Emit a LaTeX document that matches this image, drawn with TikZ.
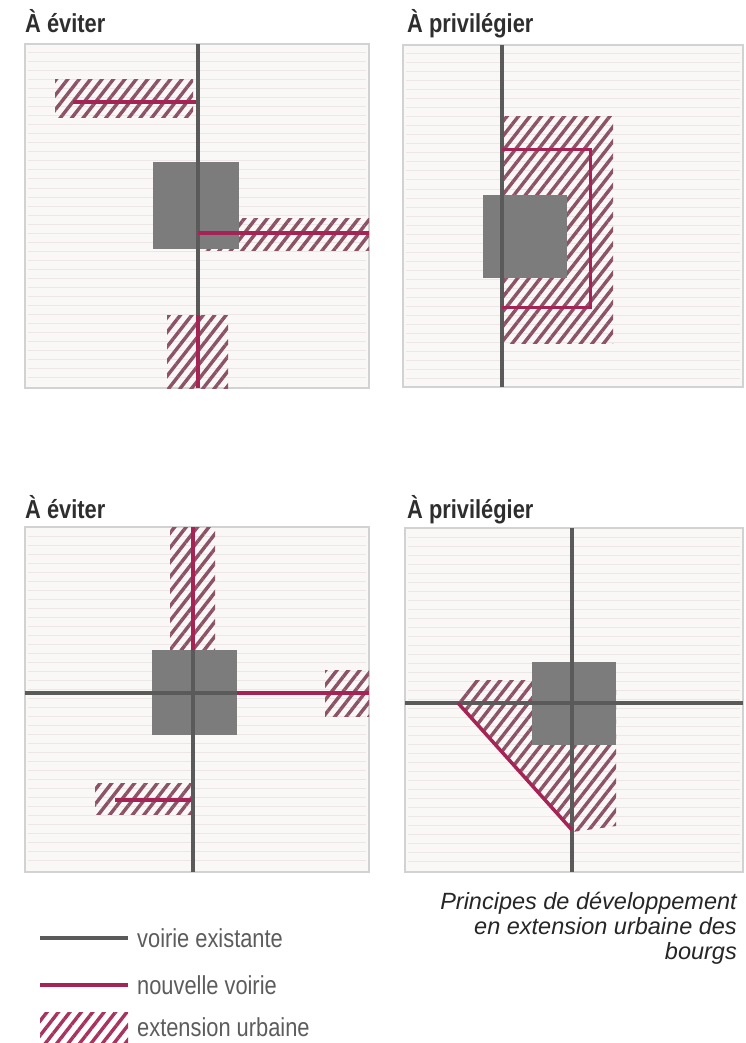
\documentclass[tikz,border=0pt]{standalone}
\usepackage{graphicx}
\usepackage{fontspec}
\setmainfont{Liberation Sans}
\usetikzlibrary{patterns.meta}
\definecolor{roadgrey}{HTML}{5A5A5A}
\definecolor{blockgrey}{HTML}{7C7C7C}
\definecolor{roadred}{HTML}{A62455}
\definecolor{hatchink}{HTML}{8C5266}
\definecolor{legendhatch}{HTML}{A8335E}
\definecolor{paper}{HTML}{FAF7F7}
\definecolor{paperline}{HTML}{ECE6E6}
\definecolor{frame}{HTML}{D2D2D2}
\definecolor{titleink}{HTML}{2E2E2E}
\definecolor{legendink}{HTML}{5C5C5C}
\newcommand{\narrowtext}[1]{\scalebox{0.84}[1]{#1}}

\begin{document}
\begin{tikzpicture}[x=1pt, y=-1pt,
  panel/.style={draw=frame, line width=1.2pt, fill=paper},
  paperrule/.style={paperline, line width=1pt},
  road/.style={roadgrey, line width=4pt},
  newroad/.style={roadred, line width=3.5pt},
  hatched/.style={pattern={Lines[angle=52, distance=9pt, line width=3.4pt]}, pattern color=hatchink},
  block/.style={fill=blockgrey},
  title/.style={anchor=base west, inner sep=0pt, text=titleink, font=\fontsize{26}{30}\selectfont\bfseries},
  legendtext/.style={anchor=west, inner sep=0pt, text=legendink, font=\fontsize{26}{30}\selectfont},
  caption/.style={anchor=north east, inner sep=0pt, align=right, text=black!85, font=\fontsize{23.5}{25}\selectfont\itshape}]

  \useasboundingbox (0,0) rectangle (745,1043);
  \fill[white] (0,0) rectangle (745,1043);

  % the four plans
  \foreach \xa/\ya/\xb/\yb in {25/44/369/388, 403/45/743/387, 25/527/369/872, 405/528/743/872} {
    \draw[panel] (\xa,\ya) rectangle (\xb,\yb);
    \foreach \s in {1,...,37}
      \draw[paperrule] (\xa+3,\ya+\s*9) -- (\xb-3,\ya+\s*9);
  }

  \node[title] (avoidtop) at (25,33) {\narrowtext{À éviter}};
  \node[title] (prefertop) at (407,33) {\narrowtext{À privilégier}};
  \node[title] (avoidbottom) at (25,518) {\narrowtext{À éviter}};
  \node[title] (preferbottom) at (407,518) {\narrowtext{À privilégier}};

  % top left
  \fill[hatched] (55,80) rectangle (193,118);
  \fill[hatched] (198,218) rectangle (369,250);
  \fill[hatched] (167,315) rectangle (228,388);
  \fill[block] (153,162) rectangle (239,249);
  \draw[road] (198,44) -- (198,388);
  \draw[newroad] (73,102) -- (196,102);
  \draw[newroad] (198,233) -- (369,233);
  \draw[newroad] (198,315) -- (198,388);

  % top right
  \fill[hatched] (502,117) rectangle (613,343);
  \fill[block] (483,195) rectangle (567,278);
  \draw[road] (502,45) -- (502,387);
  \draw[newroad, line width=3pt] (502,150) -- (590,150) -- (590,307) -- (502,307);

  % bottom left
  \fill[hatched] (170,527) rectangle (215,650);
  \fill[hatched] (325,670) rectangle (369,716);
  \fill[hatched] (95,783) rectangle (193,814);
  \fill[block] (152,650) rectangle (237,735);
  \draw[road] (25,693) -- (237,693);
  \draw[road] (193,650) -- (193,872);
  \draw[newroad] (193,527) -- (193,650);
  \draw[newroad] (237,693) -- (369,693);
  \draw[newroad] (115,800) -- (191,800);

  % bottom right
  \fill[hatched] (458,703) -- (470,680) -- (616,680) -- (616,826) -- (572,832) -- cycle;
  \fill[block] (532,662) rectangle (616,745);
  \draw[road] (572,528) -- (572,872);
  \draw[road] (405,703) -- (743,703);
  \draw[newroad] (458,703) -- (572,830);

  \node[caption] (caption) at (737,892) {Principes de développement\\en extension urbaine des\\bourgs};

  % legend
  \node[legendtext] (existing) at (137,938) {\narrowtext{voirie existante}};
  \draw[road] (40,938) -- ([xshift=-9pt]existing.west);
  \node[legendtext] (planned) at (137,985) {\narrowtext{nouvelle voirie}};
  \draw[newroad, line width=4pt] (40,985) -- ([xshift=-9pt]planned.west);
  \node[legendtext] (extension) at (137,1027) {\narrowtext{extension urbaine}};
  \fill[hatched, pattern color=legendhatch] (40,1012) rectangle (128,1043);

\end{tikzpicture}
\end{document}
